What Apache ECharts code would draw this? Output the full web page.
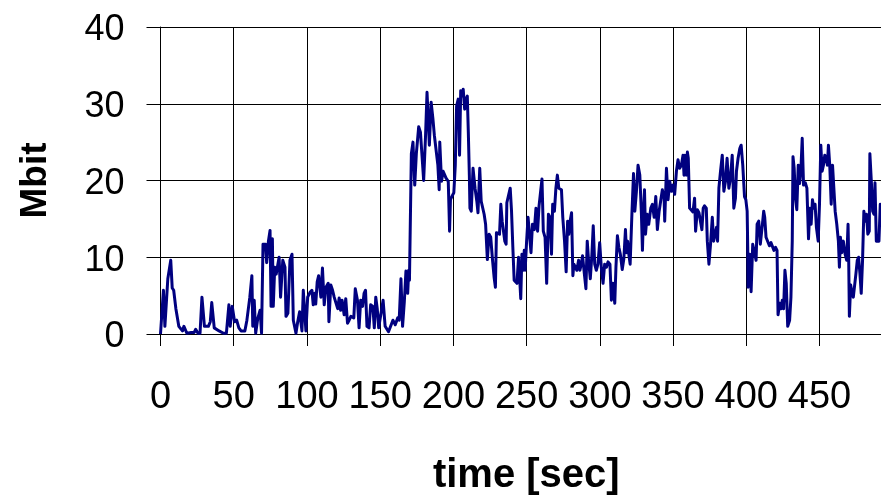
<!DOCTYPE html>
<html><head><meta charset="utf-8">
<script src="https://cdn.jsdelivr.net/npm/echarts@6/dist/echarts.min.js"></script>
<style>html,body{margin:0;padding:0;background:#fff}#c{width:881px;height:501px}</style>
</head><body><div id="c"></div>
<script>
const xTicks = [0,50,100,150,200,250,300,350,400,450];
const yTicks = [0,10,20,30,40];
const times = [0,2,3,5,7,8,9,10.5,11,12.5,13.6,15,16,17,18,21,23,24,25.6,27,28.3,30,31,32.7,34,35,36.7,38,40,41,43,45,46.7,47.6,49,50.6,52,53.5,55,57.6,59,60.3,61,62.4,63,64,65,66.4,68,69,70,71.7,72.5,73.7,74.8,75.5,76.4,77,78,79,79.8,81,82,83.5,85,85.7,87,88.4,89.8,90.7,92.5,93.7,95,96.6,97.5,99.3,100.5,102,103.4,104.3,105.4,106,107,108,109.5,110.6,111.8,113,114.5,115,116.3,117.5,118.6,119.7,121,122,123,124,125.4,126.5,127.7,128.8,130,131,132,133,134.5,135.6,136.7,138,139,140,141,142.4,143.5,145,146,147,148,149,150.3,152,153.4,154.6,155.7,157,158.7,160.3,162,163,164.2,165.3,166.5,167.6,168.8,169.5,170,171.3,172.4,173.6,174.7,175.6,176.3,177.5,178.6,179.7,181,182,183.6,184.8,186,187,188.2,189.4,190.3,190.7,191.9,193,194,195,196.5,197.4,198,199.2,200.3,201.3,202.2,203.3,203.8,204.2,205,206,206.7,207.7,208.6,209.5,210.2,210.9,211.3,212.2,213.4,214.8,216,216.8,218,219,220.2,221,222,223.2,224.4,225.5,226.7,227.8,228.7,229.4,230.5,231.5,232.4,233.3,234.2,235.1,236,236.5,237.6,238.8,239.7,240.6,241.5,242.4,243.4,244.5,245.4,246,246.8,247.7,248.4,249,250,251,252,253,254,255.3,256.4,257.5,258.5,259.4,260.5,261.4,262.6,263.7,264.9,266,267,267.8,269,270,271,272,273,273.8,274.7,275.9,277,278,278.8,279.7,280.7,281.6,282.3,283.2,284.3,285.5,286.4,287.3,288.2,289.4,290.5,291.4,292.3,293.5,294.6,295.5,296.5,297.6,298.7,299.9,301,302.2,303.3,304.5,305.6,306.9,307.9,309,310.2,311,312,313,314,315.3,316.4,317.5,318.2,319,319.8,320.7,321.9,323,323.9,325,326.1,327.3,328.4,329.1,329.8,330.5,331.2,332.3,333.4,334.8,335.9,337.1,338.2,339.3,340.5,341.6,342.7,343.9,344.3,345.5,346.6,347.7,348.9,350,351.1,352.3,353.4,354.5,355.7,356.8,357.5,358.2,359.1,359.8,360.4,361.3,362.5,363.6,364.7,365.4,366.6,367.7,368.8,369.7,370.6,371.5,372.7,373.4,374.5,375.6,376.8,377.7,378.6,379.7,380.4,381.3,382.4,383.6,384.7,385.8,386.9,388.1,389.2,390.4,391.5,392.6,393.3,394.4,395.6,396.5,397.6,398.8,399.7,400.6,401,401.2,402.4,403.3,404.4,405.6,406.7,407.4,408.5,409.6,410.8,411.9,412.6,413.5,414.6,415.8,416.9,418,418.9,420,421,421.7,422.8,423.7,424.6,425.5,426.4,427.3,428.3,428.7,429.6,430.5,431.4,431.9,432.7,433.6,434.5,435.5,436.4,437.3,438.2,439.1,440.3,441.4,442.5,443.4,444.3,445.2,446.1,447,447.9,449.1,450,450.9,451.8,452.7,453.6,454.5,455.4,456.1,457,458,458.9,459.8,460.7,461.8,462.9,463.6,464.3,465.2,466.3,467.5,468.6,469.5,469.9,470.4,471.3,472.2,473.1,474,474.9,475.8,476.7,477.6,478.5,479.4,480.3,481.2,482.1,483,484,484.4,485.4,486.3,487.2,487.9,488.8,489.7,490.6,491.5,492];
const mbit = [0,5.7,1,7.2,9.6,6,5.7,3.3,3.3,1,0.8,0.4,1,1.1,0.1,0.2,0.2,0.6,0.1,0.1,4.8,1,1.2,1,1.6,4.1,0.8,0.8,0.4,0.4,0.1,0.1,3.8,1,3.6,1.6,1.8,0.8,0.4,0.4,1.8,1.9,4.8,7.6,1,4.4,0.1,2,3.1,0.1,11.7,11.7,9.3,12.1,13.5,3.6,12.4,3.6,8.7,7.8,8.7,10,4.8,9.6,8.7,2.3,2.7,9.6,10.4,1.8,0.1,1.6,2.9,0.4,5.7,0.4,4.8,5.4,5.7,3.8,5.3,3.9,6.8,7.6,4.8,8.6,3.8,6.1,6.6,1.6,6.4,5.7,4.8,4.6,3.3,4.7,3.1,4.4,2.5,4.6,1.4,1.8,2.3,2.3,2.1,5.9,4.4,0.8,4.4,3.6,5.3,5.7,1,0.8,3.8,3.6,0.8,4.8,3.3,0.8,1,4.4,1,1.2,0.3,0.3,1.8,1.2,2.1,1.8,7.2,1,4.2,8.2,5.3,8.3,7,23.5,25,19.4,23.5,23.7,27,26.3,26.3,20,25.9,31.5,24.6,30.2,28.1,25.9,25.7,22,18.8,25,19.9,21.2,21.4,20.3,19.9,13.4,17.5,18,18.4,22,29.7,30.6,28,23.3,31.7,31,31.9,29.3,30.6,31,26.3,20.7,16.4,16,21.6,19,17.3,15.8,21.6,17.3,17.5,15.6,14.3,9.7,13,12.6,9.7,7.4,6.1,13.2,13,13,16.9,14.7,14.7,12.1,11.7,17.1,17.3,19,16,11.3,7,7.2,6.6,10,10.2,4.6,10.4,8.3,10.9,8.3,12.1,15.2,15.4,10.6,14.3,13.6,16.4,13.4,16.7,16.9,20.2,13.4,12.6,6.6,15.6,15.2,10.4,16.9,16,19,20.7,19,19,18.8,15.2,12.1,8.1,14.7,13,14.7,15.8,7.6,9.1,9.1,8.3,9.6,8.3,9.1,10.2,7.9,5.9,12.1,9.6,7.2,10.4,14.1,9.1,8.3,9.1,11.9,8.7,6.6,9.1,8.7,9.4,9.1,4.4,6.6,4,8.7,12.8,11.3,10.4,8.4,9.8,13.6,10.6,12.1,10.4,9.1,15.6,20.9,16,18.6,22,20.7,15.6,10.9,15.6,18.8,13,15.6,14.3,16.4,16.9,15.2,17.9,13.6,16,16.2,18.8,17.7,14.7,21.6,17.5,19.9,18.6,19.4,18.2,21.2,22.7,21.6,22,23.3,20.7,23.3,20.7,23.7,22.9,16.4,16.2,15.9,17.7,13.4,16.2,15.8,16,13.6,16.4,16.7,16.4,12.1,9.1,11.7,15.2,12.1,11.9,13.9,12.1,19,21.2,23.3,18.6,19.9,22.9,19,20.3,23.3,16.4,17.7,21.2,22.9,24.2,24.6,22,17.9,17.5,16,11.3,6.1,10.4,5.5,11.7,10.6,9.6,14.3,14.7,11.7,13.9,16,15.2,12.6,12.6,11.5,11.9,12.1,10.9,11.3,10.9,2.5,4,3.3,4.4,3.3,8.3,6.6,1,0.8,1.8,4.8,12.1,23.1,21.6,17.7,16.2,22,19.6,21.4,25.5,19.4,19.7,19,12.4,16.4,14.3,17.5,16.4,16.9,13.9,12.1,16.9,24.6,21.2,22,23.3,22.9,22,24.6,22,16.9,22,19,16,14.3,12.1,8.7,12.6,10.6,12.1,10.4,9.6,14.3,10.4,2.3,6.4,5.3,4.8,4.6,7.9,9.6,10,7.9,5.3,9.6,16,14.7,15.6,13,13.4,23.5,19.9,16,15.6,19.7,12.1,11.9,12.1,16.9,16.4];

const chart = echarts.init(document.getElementById('c'), null, {renderer:'canvas'});
const data = times.map((t,i)=>[t, mbit[i]]);
chart.setOption({
  animation:false,
  backgroundColor:'#fff',
  grid:{left:160.5, right:0, top:27, bottom:163, containLabel:false},
  xAxis:{
    type:'value', min:0, max:492, interval:50,
    name:'time [sec]', nameLocation:'middle', nameGap:122,
    nameTextStyle:{fontFamily:'Liberation Sans, Arial', fontWeight:'bold', fontSize:40, color:'#000', padding:[0,0,0,11]},
    axisLine:{show:true, onZero:false, lineStyle:{color:'#000', width:1}},
    axisTick:{show:true, length:12, lineStyle:{color:'#000'}, customValues:xTicks},
    axisLabel:{fontFamily:'Liberation Sans, Arial', fontSize:38, color:'#000', margin:45, customValues:xTicks},
    splitLine:{show:true, lineStyle:{color:'#000', width:1}}
  },
  yAxis:{
    type:'value', min:0, max:40, interval:10,
    name:'Mbit', nameLocation:'middle', nameGap:106,
    nameTextStyle:{fontFamily:'Liberation Sans, Arial', fontWeight:'bold', fontSize:37, color:'#000'},
    axisLine:{show:true, lineStyle:{color:'#000', width:1}},
    axisTick:{show:true, length:14, lineStyle:{color:'#000'}},
    axisLabel:{fontFamily:'Liberation Sans, Arial', fontSize:36, color:'#000', margin:36, customValues:yTicks,
      formatter:'{v|{value}}',
      rich:{v:{fontFamily:'Liberation Sans, Arial', fontSize:36, color:'#000', height:36, padding:[7,0,0,0]}}},
    splitLine:{show:true, lineStyle:{color:'#000', width:1}}
  },
  series:[{
    type:'line', data:data, showSymbol:false, symbol:'none',
    lineStyle:{color:'#000080', width:3, join:'round'},
    clip:true
  }]
});
</script></body></html>
